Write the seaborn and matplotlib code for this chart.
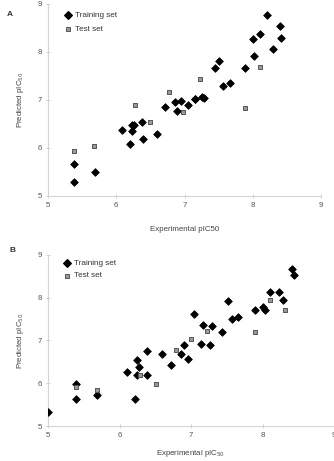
import matplotlib
matplotlib.use("Agg")
import matplotlib.pyplot as plt
import seaborn as sns
import pandas as pd

# Panel A data
a_train_x = [5.38, 5.38, 5.69, 6.09, 6.23, 6.23, 6.26, 6.38, 6.20, 6.39, 6.60, 6.71, 6.86, 6.89,
             6.95, 7.05, 7.15, 7.16, 7.25, 7.29, 7.44, 7.51, 7.57, 7.66, 7.89, 8.02, 8.00, 8.10,
             8.21, 8.29, 8.40, 8.42]
a_train_y = [5.28, 5.67, 5.49, 6.37, 6.35, 6.48, 6.48, 6.54, 6.08, 6.18, 6.29, 6.84, 6.95, 6.76,
             6.98, 6.89, 7.02, 7.01, 7.06, 7.04, 7.67, 7.81, 7.28, 7.35, 7.66, 7.90, 8.26, 8.36,
             8.76, 8.05, 8.54, 8.28]
a_test_x = [5.38, 5.68, 6.27, 6.50, 6.78, 6.98, 7.23, 7.89, 8.10]
a_test_y = [5.94, 6.04, 6.88, 6.53, 7.15, 6.74, 7.44, 6.82, 7.69]

# Panel B data
b_train_x = [5.00, 5.39, 5.39, 5.69, 6.10, 6.21, 6.24, 6.24, 6.27, 6.38, 6.39, 6.60, 6.72, 6.86,
             6.90, 6.96, 7.04, 7.14, 7.17, 7.27, 7.30, 7.43, 7.52, 7.57, 7.66, 7.89, 8.01, 8.04,
             8.11, 8.23, 8.29, 8.41, 8.44]
b_train_y = [5.33, 5.97, 5.62, 5.73, 6.27, 5.64, 6.54, 6.18, 6.38, 6.76, 6.18, 6.69, 6.43, 6.69,
             6.89, 6.56, 7.61, 6.92, 7.37, 6.90, 7.34, 7.19, 7.92, 7.49, 7.54, 7.70, 7.77, 7.70,
             8.13, 8.14, 7.95, 8.67, 8.53]
b_test_x = [5.39, 5.69, 6.29, 6.51, 6.79, 7.00, 7.23, 7.89, 8.10, 8.31]
b_test_y = [5.90, 5.83, 6.18, 5.98, 6.77, 7.02, 7.23, 7.19, 7.94, 7.70]

ticks = [5, 6, 7, 8, 9]
train_label = "Training set"
test_label = "Test set"

sns.set_theme(style="white")
plt.rcParams['font.family'] = ['Liberation Sans', 'DejaVu Sans']

W, H = 334, 461
fig = plt.figure(figsize=(W / 100, H / 100), dpi=100)


def px_axes(left, top, right, bottom):
    return fig.add_axes([left / W, 1 - bottom / H, (right - left) / W, (bottom - top) / H])


def draw(ax, tx, ty, sx, sy, xlabel, ylabel, lpos, xpad):
    dtr = pd.DataFrame({"x": tx, "y": ty})
    dte = pd.DataFrame({"x": sx, "y": sy})
    sns.scatterplot(data=dtr, x="x", y="y", ax=ax, marker="D", s=15, color="black",
                    edgecolor="black", linewidth=0.6, zorder=3)
    sns.scatterplot(data=dte, x="x", y="y", ax=ax, marker="s", s=12, color="#9a9a9a",
                    edgecolor="#555555", linewidth=0.7, zorder=3)
    ax.set_xlim(5, 9)
    ax.set_ylim(5, 9)
    ax.set_xticks(ticks)
    ax.set_yticks(ticks)
    ax.set_xticklabels([str(t) for t in ticks])
    ax.set_yticklabels([str(t) for t in ticks])
    for s in ["top", "right"]:
        ax.spines[s].set_visible(False)
    for s in ["left", "bottom"]:
        ax.spines[s].set_color("#d4d4d4")
        ax.spines[s].set_linewidth(0.8)
    ax.tick_params(axis="both", direction="inout", length=3, width=0.6, color="#c8c8c8",
                   labelsize=5.7, labelcolor="#555555", pad=3,
                   bottom=True, left=True)
    ax.set_xlabel(xlabel, fontsize=5.7, color="#444444", labelpad=xpad)
    ax.set_ylabel(ylabel, fontsize=5.7, color="#444444", labelpad=8)
    ax.set_facecolor("none")
    # legend
    lx, ly = lpos
    ax.scatter([lx], [ly], marker="D", s=15, color="black", transform=ax.transAxes,
               clip_on=False, zorder=4)
    ax.text(lx + 0.025, ly, train_label, transform=ax.transAxes, fontsize=5.9,
            color="#333333", va="center", ha="left")
    ax.scatter([lx], [ly - 0.073], marker="s", s=12, color="#9a9a9a", edgecolor="#555555",
               linewidth=0.7, transform=ax.transAxes, clip_on=False, zorder=4)
    ax.text(lx + 0.025, ly - 0.073, test_label, transform=ax.transAxes, fontsize=5.9,
            color="#333333", va="center", ha="left")


axA = px_axes(48, 3.7, 321, 195.7)
draw(axA, a_train_x, a_train_y, a_test_x, a_test_y,
     "Experimental pIC50", "Predicted pIC$_{50}$", (0.073, 0.94), 12)
axB = px_axes(48, 254.7, 334, 426)
draw(axB, b_train_x, b_train_y, b_test_x, b_test_y,
     "Experimental pIC$_{50}$", "Predicted pIC$_{50}$", (0.066, 0.95), 6.5)

fig.text(10 / W, 1 - 15 / H, "A", fontsize=6, fontweight="bold", color="#333333",
         va="center", ha="center")
fig.text(12 / W, 1 - 250 / H, "B", fontsize=6, fontweight="bold", color="#333333",
         va="center", ha="center")

fig.savefig("out.png", dpi=100)
